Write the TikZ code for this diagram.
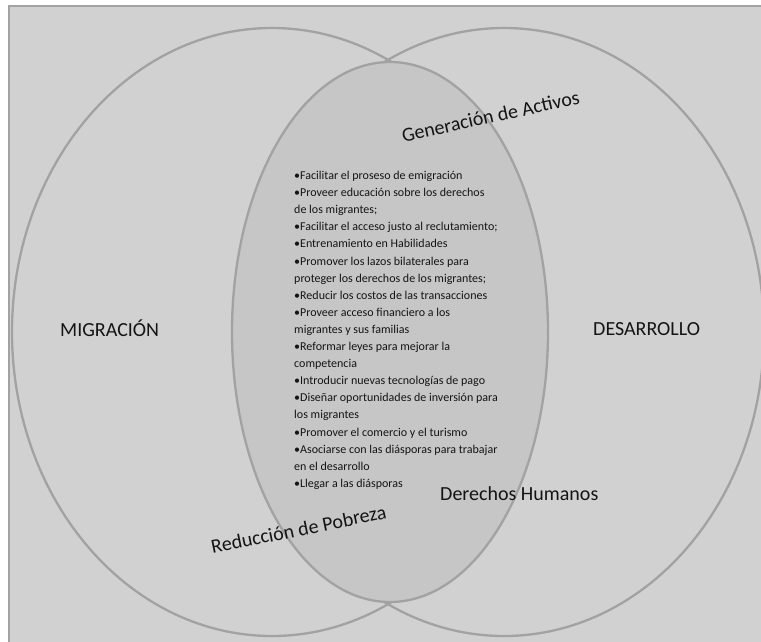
\documentclass[tikz,border=0pt]{standalone}
\usepackage{fontspec}
\setmainfont{Carlito}
\definecolor{panel}{HTML}{D1D1D1}
\definecolor{core}{HTML}{C6C6C6}
\definecolor{rim}{HTML}{A2A2A2}
\definecolor{ink}{HTML}{141414}

\begin{document}
\begin{tikzpicture}[x=1pt, y=-1pt,
  ring/.style={draw=rim, line width=2.3pt},
  big/.style={font=\fontsize{20}{24}\selectfont, text=ink, inner sep=0pt},
  tag/.style={big, anchor=base},
  items/.style={font=\fontsize{12}{17.1}\selectfont, text=ink, align=left,
                inner sep=0pt, anchor=north west}
]
  \useasboundingbox (0,0) rectangle (761,641);
  \clip (0,0) rectangle (761,641);
  \draw[fill=panel, draw=rim, line width=2pt] (9,6) rectangle (790,670);
  \draw[ring] (272,332) ellipse [x radius=260, y radius=304];
  \draw[ring] (504,332) ellipse [x radius=260, y radius=304];
  \filldraw[ring, fill=core] (390,332) ellipse [x radius=158, y radius=270];

  \node[items] (acts) at (294,171) {•Facilitar el proseso de emigración\\
    •Proveer educación sobre los derechos\\
    de los migrantes;\\
    •Facilitar el acceso justo al reclutamiento;\\
    •Entrenamiento en Habilidades\\
    •Promover los lazos bilaterales para\\
    proteger los derechos de los migrantes;\\
    •Reducir los costos de las transacciones\\
    •Proveer acceso financiero a los\\
    migrantes y sus familias\\
    •Reformar leyes para mejorar la\\
    competencia\\
    •Introducir nuevas tecnologías de pago\\
    •Diseñar oportunidades de inversión para\\
    los migrantes\\
    •Promover el comercio y el turismo\\
    •Asociarse con las diásporas para trabajar\\
    en el desarrollo\\
    •Llegar a las diásporas};

  \node[big, anchor=base west] (mig) at (60,336) {MIGRACIÓN};
  \node[big, anchor=base west] (des) at (593,335) {DESARROLLO};
  \node[tag, rotate=12.5] (gen) at (492,123) {Generación de Activos};
  \node[tag, rotate=11.5] (pob) at (300,536) {Reducción de Pobreza};
  \node[big, anchor=base west] (dh) at (440,500) {Derechos Humanos};
\end{tikzpicture}
\end{document}
